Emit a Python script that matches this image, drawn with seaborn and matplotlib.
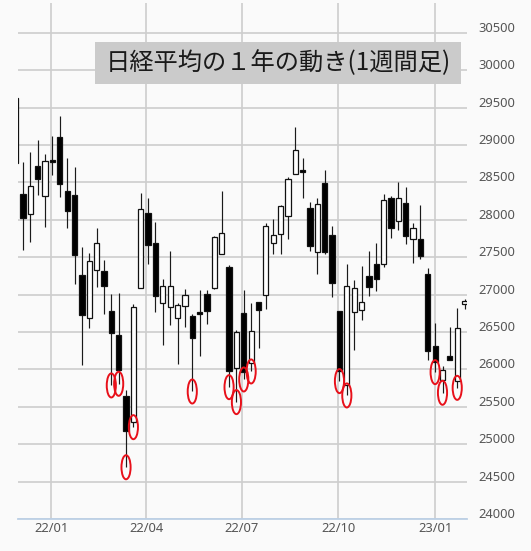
import numpy as np
import pandas as pd
import matplotlib
matplotlib.use("Agg")
import matplotlib.pyplot as plt
import matplotlib.dates as mdates
from matplotlib.path import Path
from matplotlib.transforms import Affine2D, ScaledTranslation
from matplotlib.patches import Rectangle
import seaborn as sns

# ---- data (weekly candles, week-ending dates) ----
week_end = pd.date_range("2021-11-28", periods=62, freq="W-SUN")
open_ = [29625, 28352, 28076, 28719, 28321, 28805, 29102, 28388, 28330, 27268,
         26692, 27326, 27312, 26781, 26460, 25643, 25295, 27094, 28098, 27696,
         26888, 26835, 26687, 26853, 26710, 26762, 27004, 27089, 27549, 27370,
         26018, 26754, 26085, 26902, 27000, 27692, 27817, 28049, 28620, 28662,
         28165, 27571, 28495, 27803, 26781, 25795, 26768, 26799, 27245, 27415,
         27406, 28286, 27987, 28232, 27750, 27741, 27281, 26308, 25853, 26174,
         25844, 26870]
high = [29625, 28777, 28910, 29067, 28875, 29125, 29393, 28821, 28701, 27638,
        27558, 27893, 27460, 27004, 27022, 25720, 26870, 28353, 28286, 27973,
        27214, 27585, 26888, 27080, 26745, 27067, 27058, 27781, 28388, 27402,
        26531, 27058, 26888, 26902, 27960, 28018, 28205, 28570, 29236, 28830,
        28241, 28286, 28665, 27915, 26781, 27406, 27192, 27379, 27580, 27696,
        28344, 28317, 28509, 28433, 27960, 28196, 27361, 26620, 26040, 26567,
        26826, 26946]
low = [28754, 27603, 27705, 28330, 27906, 28594, 28308, 27893, 27138, 26054,
       26554, 27103, 26745, 25786, 25808, 24692, 25228, 27094, 27406, 26768,
       26321, 26589, 26076, 26567, 25705, 26174, 26603, 27071, 27549, 25763,
       25563, 25866, 25973, 26290, 26804, 27540, 27540, 27750, 28620, 28295,
       27585, 27281, 27540, 26969, 25844, 25652, 26263, 26656, 26978, 27049,
       27370, 27763, 27870, 27674, 27424, 27482, 26121, 25964, 25688, 26121,
       25754, 26813]
close = [28754, 28031, 28451, 28540, 28790, 28780, 28473, 28120, 27527, 26723,
         27446, 27692, 27116, 26487, 25987, 25174, 26835, 28152, 27661, 26982,
         27112, 27112, 26857, 27000, 26424, 26745, 26777, 27772, 27826, 25973,
         26500, 25964, 26513, 26799, 27915, 27795, 28183, 28553, 28933, 28642,
         27647, 28210, 27571, 27161, 25978, 27116, 27089, 26902, 27102, 27205,
         28272, 27897, 28286, 27786, 27897, 27513, 26241, 26098, 25987, 26121,
         26554, 26915]
marked = [13, 14, 15, 16, 24, 29, 30, 31, 32, 44, 45, 57, 58, 60]
tick_dates = ["2022-01-01", "2022-04-01", "2022-07-01", "2022-10-01", "2023-01-01"]
tick_labels = ["22/01", "22/04", "22/07", "22/10", "23/01"]
y_ticks = list(range(24000, 30501, 500))
title = "日経平均の１年の動き(1週間足)"

df = pd.DataFrame({"date": week_end, "open": open_, "high": high,
                   "low": low, "close": close})
df["up"] = df["close"] >= df["open"]
marks = df.iloc[marked]

# ---- figure ----
sns.set_theme(style="white")
plt.rcParams["font.family"] = ["Noto Sans", "DejaVu Sans"]
W, H = 531, 551
fig = plt.figure(figsize=(W / 100, H / 100), dpi=100, facecolor="#fafafa")
ax = fig.add_axes([18 / W, 32 / H, 449 / W, 516 / H], facecolor="#fafafa")

# wicks
ax.vlines(df["date"], df["low"], df["high"], color="#1a1a1a", linewidth=0.85, zorder=3)
# bodies
body_bottom = np.minimum(df["open"], df["close"])
body_h = np.maximum(np.abs(df["close"] - df["open"]), 12)
face = np.where(df["up"], "white", "black")
ax.bar(df["date"], body_h, bottom=body_bottom, width=5.0, color=face,
       edgecolor="#111111", linewidth=0.9, zorder=4)

# red ellipses around weekly lows below 26000
ell = Path.unit_circle().transformed(Affine2D().scale(0.38, 1.0))
sns.scatterplot(data=marks, x="date", y="low", marker=ell, s=300,
                linewidth=1.4, edgecolor="#e8101a", ax=ax, zorder=5, legend=False)
ax.collections[-1].set_facecolor("none")
ax.collections[-1].set_edgecolor("#e8101a")

# axes / grid
x0 = mdates.date2num(pd.Timestamp("2021-12-05")) - 4.75
x1 = mdates.date2num(pd.Timestamp("2021-12-05")) + 422.3
ax.set_xlim(x0, x1)
ax.set_ylim(24000, 30900)
ax.set_xticks(pd.to_datetime(tick_dates))
ax.set_xticklabels(tick_labels)
ax.set_yticks(y_ticks)
ax.set_yticklabels([str(v) for v in y_ticks])
ax.yaxis.tick_right()
ax.grid(True, color="#cdcdcd", linewidth=1.2, zorder=0)
ax.set_axisbelow(True)
for s in ["top", "left", "right"]:
    ax.spines[s].set_visible(False)
ax.spines["bottom"].set_color("#bcd0e6")
ax.spines["bottom"].set_linewidth(1.3)
ax.tick_params(axis="both", length=0, labelsize=9.3, colors="#555555")
ax.tick_params(axis="y", pad=8.5)
ax.tick_params(axis="x", pad=2.5)
ax.set_xlabel("")
ax.set_ylabel("")
off = ScaledTranslation(0, 6 / 100, fig.dpi_scale_trans)
for lab in ax.get_yticklabels():
    lab.set_transform(lab.get_transform() + off)

# title box
fig.patches.append(Rectangle((95 / W, 1 - 84 / H), 366 / W, 42 / H,
                             transform=fig.transFigure, facecolor="#cbcbcb",
                             edgecolor="none", zorder=6))
fig.text(278 / W, 1 - 63 / H, title, ha="center", va="center", fontsize=17.5,
         color="#1a1a1a", family=["Noto Sans CJK JP", "DejaVu Sans"], zorder=7)

fig.savefig("out.png", dpi=100, facecolor=fig.get_facecolor())
